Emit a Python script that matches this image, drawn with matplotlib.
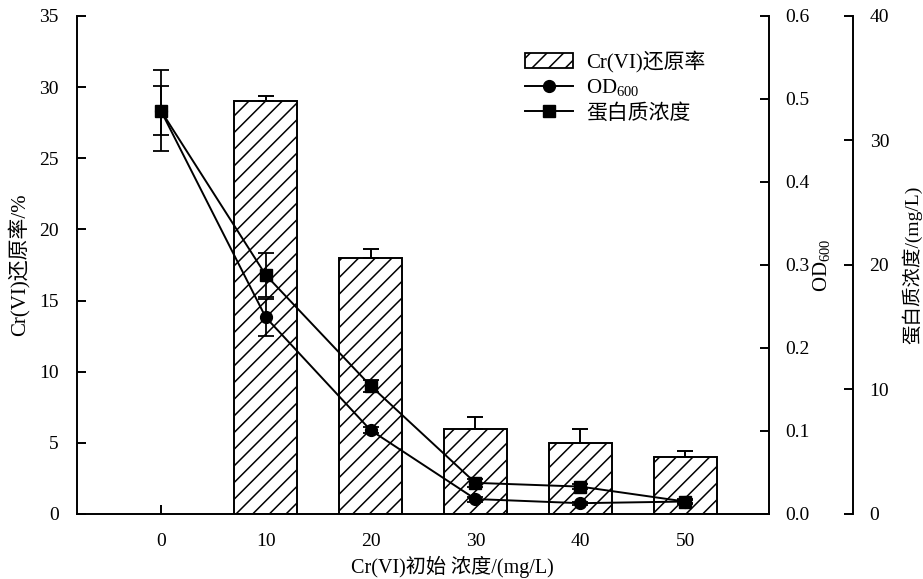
import numpy as np
import matplotlib
matplotlib.use("Agg")
import matplotlib.pyplot as plt
from matplotlib.patches import Patch
from matplotlib.lines import Line2D

# ---- data ----
conc_labels = ['0', '10', '20', '30', '40', '50']
rate = [29.0, 18.0, 6.0, 5.0, 4.0]          # Cr(VI) reduction rate, for 10..50
rate_err = [0.4, 0.6, 0.85, 1.0, 0.4]
od600 = [0.486, 0.237, 0.101, 0.018, 0.013, 0.015]
od600_err = [0.049, 0.022, 0.004, 0.003, 0.002, 0.002]
protein = [32.4, 19.2, 10.3, 2.5, 2.2, 1.0]
protein_err = [2.0, 1.8, 0.5, 0.3, 0.2, 0.2]

plt.rcParams['font.family'] = ['Liberation Serif', 'Noto Sans CJK SC']
plt.rcParams['font.size'] = 14
plt.rcParams['mathtext.fontset'] = 'custom'
plt.rcParams['mathtext.rm'] = 'Liberation Serif'
plt.rcParams['hatch.linewidth'] = 1.1

x = np.arange(len(conc_labels))

fig = plt.figure(figsize=(9.23, 5.79), dpi=100)
ax = fig.add_axes([0.0834, 0.1123, 0.7497, 0.8601])

ax.bar(x[1:], rate, width=0.6, color='white', edgecolor='black', hatch='//',
       linewidth=1.4, yerr=[[0] * len(rate), rate_err],
       error_kw=dict(ecolor='black', elinewidth=1.4, capsize=5.5, capthick=1.4),
       zorder=2)
ax.set_xlim(-0.8, 5.8)
ax.set_ylim(0, 35)
ax.set_yticks(np.arange(0, 36, 5))
ax.set_xticks(x, conc_labels)
for s in ['top', 'right']:
    ax.spines[s].set_visible(False)
ax.tick_params(axis='y', direction='in', length=6.5, width=1.4, pad=13)
ax.tick_params(axis='x', direction='in', length=6.5, width=1.4, pad=14)
ax.set_ylabel('Cr(VI)还原率/%', fontsize=15)
ax.yaxis.set_label_coords(-0.068, 0.5)
ax.set_xlabel('Cr(VI)初始 浓度/(mg/L)', fontsize=14.5)
ax.xaxis.set_label_coords(0.542, -0.085)

line_kw = dict(color='black', lw=1.4, ms=8.5, capsize=6, elinewidth=1.3, capthick=1.3)

ax2 = ax.twinx()
ax2.errorbar(x, od600, yerr=od600_err, fmt='-o', **line_kw)
ax2.set_ylim(0, 0.6)
ax2.set_yticks(np.arange(0, 0.61, 0.1))
ax2.set_yticklabels([f'{v:.1f}' for v in np.arange(0, 0.61, 0.1)])
ax2.tick_params(axis='y', direction='in', length=6.5, width=1.4, pad=12)
ax2.set_ylabel(r'OD$_{\mathrm{600}}$', fontsize=15)
ax2.yaxis.set_label_coords(1.062, 0.5)

ax3 = ax.twinx()
ax3.spines['right'].set_position(('axes', 1.1214))
ax3.errorbar(x, protein, yerr=protein_err, fmt='-s', **dict(line_kw, ms=8))
ax3.set_ylim(0, 40)
ax3.set_yticks(np.arange(0, 41, 10))
ax3.tick_params(axis='y', direction='in', length=6.5, width=1.4, pad=12)
ax3.set_ylabel('蛋白质浓度/(mg/L)', fontsize=14)
ax3.yaxis.set_label_coords(1.192, 0.5)

for a in (ax2, ax3):
    for s in ['top', 'left', 'bottom']:
        a.spines[s].set_visible(False)
for a in (ax, ax2, ax3):
    for s in a.spines.values():
        s.set_linewidth(1.4)

handles = [
    Patch(facecolor='white', edgecolor='black', hatch='//', linewidth=1.3),
    Line2D([], [], color='black', lw=1.4, marker='o', ms=8.5),
    Line2D([], [], color='black', lw=1.4, marker='s', ms=8),
]
labels = ['Cr(VI)还原率', r'OD$_{\mathrm{600}}$', '蛋白质浓度']
ax3.legend(handles, labels, loc='upper left', bbox_to_anchor=(0.647, 0.93),
           frameon=False, borderaxespad=0, borderpad=0, handlelength=2.3,
           handletextpad=0.65, labelspacing=0.22, fontsize=15)

fig.savefig('out.png', dpi=100)
